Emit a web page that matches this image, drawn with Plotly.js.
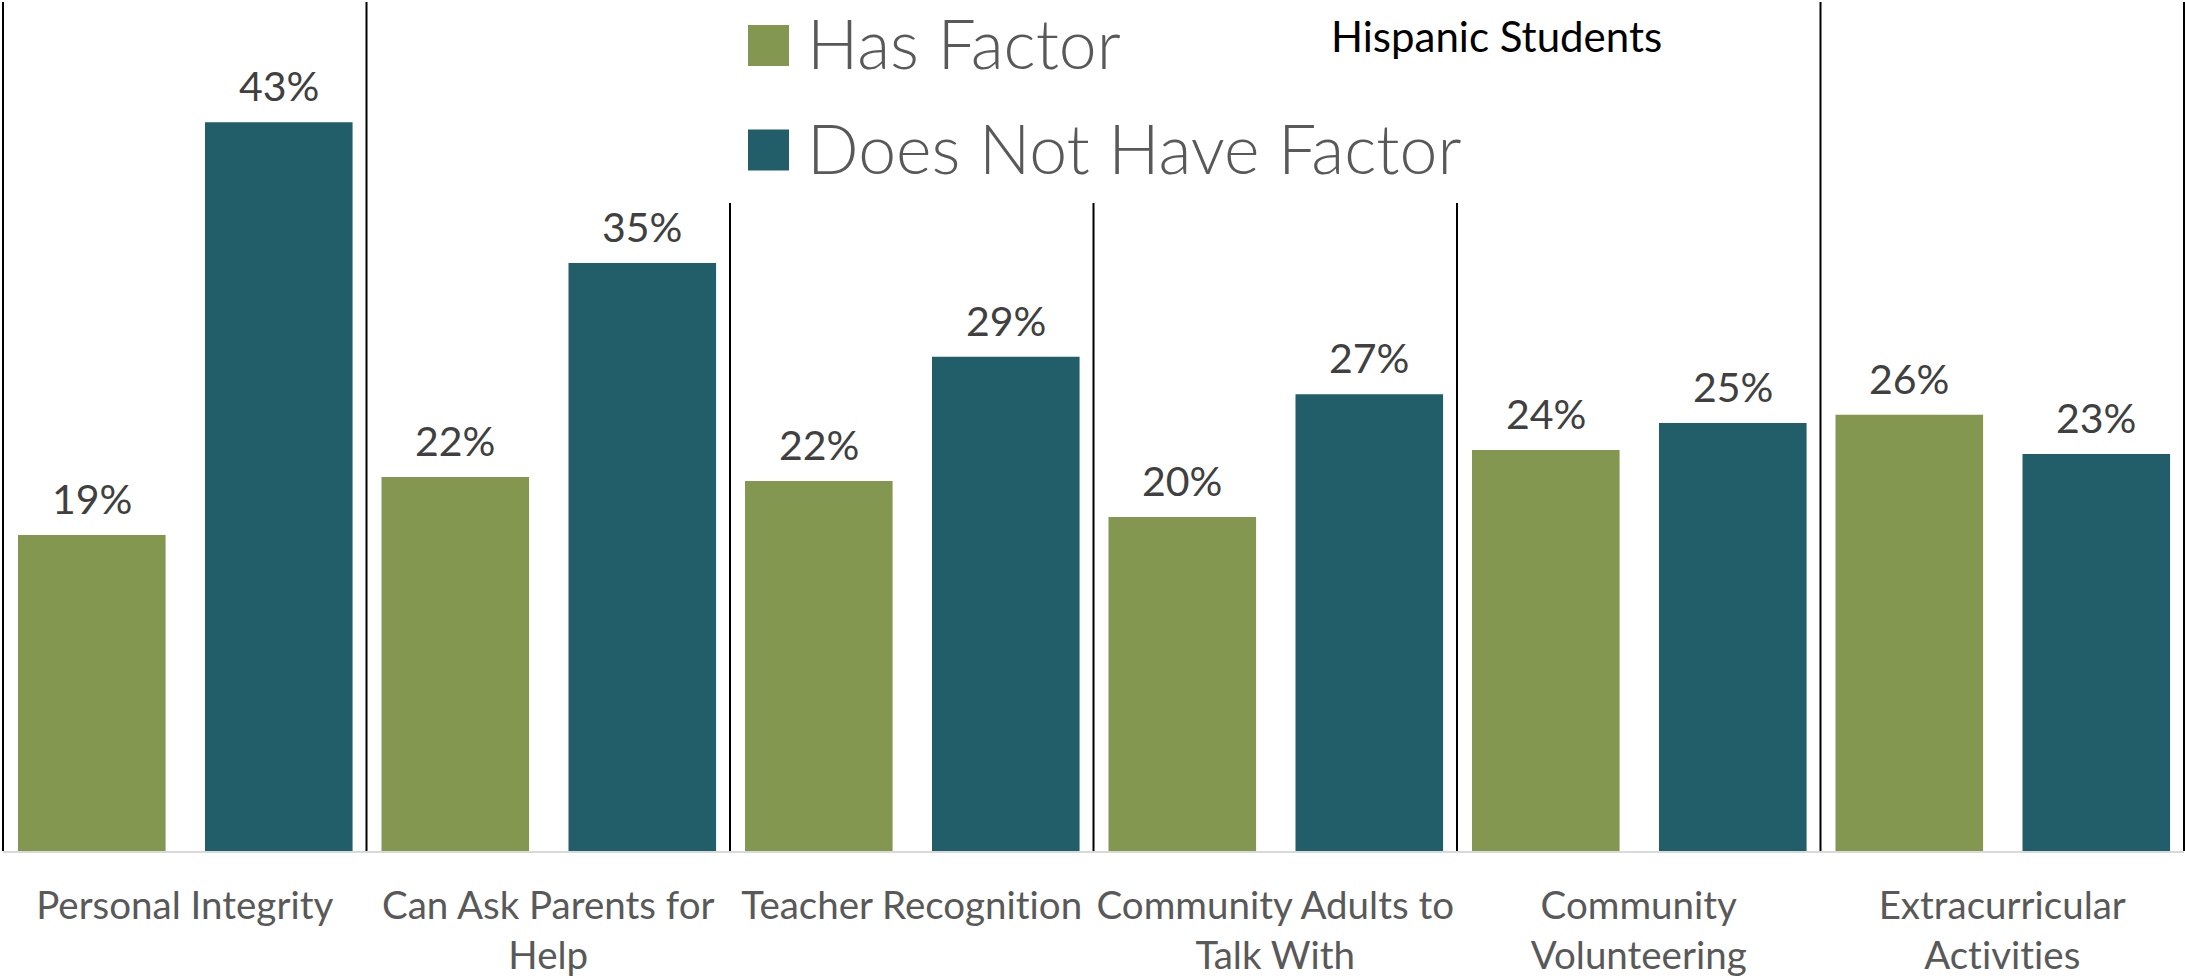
<!DOCTYPE html>
<html>
<head>
<meta charset="utf-8">
<script src="https://cdn.plot.ly/plotly-3.0.1.min.js"></script>
<style>
  html, body { margin: 0; padding: 0; background: #ffffff; }
  #chart { width: 2185px; height: 980px; }
  #chart text { font-variant-ligatures: none !important; font-feature-settings: "liga" 0, "clig" 0 !important; }
</style>
</head>
<body>
<div id="chart"></div>
<script>
// ---- Data ----
const categories = ['Personal Integrity', 'Can Ask Parents for Help', 'Teacher Recognition',
                    'Community Adults to Talk With', 'Community Volunteering', 'Extracurricular Activities'];
const tickLabels = ['Personal Integrity', 'Can Ask Parents for<br>Help', 'Teacher Recognition',
                    'Community Adults to<br>Talk With', 'Community<br>Volunteering', 'Extracurricular<br>Activities'];
const hasFactor = [18.65, 22.07, 21.84, 19.71, 23.67, 25.74];
const doesNotHaveFactor = [43.0, 34.70, 29.16, 26.96, 25.25, 23.43];
const seriesNames = ['Has Factor', 'Does Not Have Factor'];
const chartTitle = 'Hispanic Students';

// ---- Style / layout ----
const W = 2185, H = 980;
const M = {l: 3, r: 1, t: 2, b: 129};
const plotW = W - M.l - M.r, plotH = H - M.t - M.b;
const colors = ['#849751', '#225D6A'];
const barWidth = 0.406;
const offsets = [-0.4587, 0.0557];
const yMax = 50.1;
const FONT = 'Lato, "Open Sans", sans-serif';

const px2x = px => (px - M.l) / plotW;
const py2y = py => (H - M.b - py) / plotH;

const series = [hasFactor, doesNotHaveFactor];
const idx = categories.map((c, i) => i);

const traces = series.map((vals, s) => ({
  type: 'bar',
  x: idx,
  y: vals,
  name: seriesNames[s],
  width: barWidth,
  offset: offsets[s],
  marker: {color: colors[s], line: {width: 0}},
  hoverinfo: 'y',
  showlegend: false
}));

const annotations = [];
series.forEach((vals, s) => {
  vals.forEach((v, i) => {
    annotations.push({
      x: i + offsets[s] + barWidth / 2, y: v, xref: 'x', yref: 'y',
      text: Math.round(v) + '%', showarrow: false,
      xanchor: 'center', yanchor: 'bottom', yshift: 10,
      font: {family: FONT, size: 41, color: '#404040'}
    });
  });
});

// custom legend
const legendRows = [45.5, 150];
const shapes = [];
seriesNames.forEach((n, s) => {
  const cy = legendRows[s];
  shapes.push({type: 'rect', xref: 'paper', yref: 'paper',
    x0: px2x(748), x1: px2x(789), y0: py2y(cy - 20.5), y1: py2y(cy + 20.5),
    fillcolor: colors[s], line: {width: 0}, layer: 'above'});
  annotations.push({xref: 'paper', yref: 'paper', x: px2x(805), y: py2y(cy - 3),
    xanchor: 'left', yanchor: 'middle', showarrow: false, text: n,
    font: {family: FONT, size: 68, color: '#595959', weight: 300}});
});

annotations.push({xref: 'paper', yref: 'paper', x: px2x(1329), y: py2y(36),
  xanchor: 'left', yanchor: 'middle', showarrow: false, text: chartTitle,
  font: {family: FONT, size: 42, color: '#000000'}});

// separator lines at category boundaries
for (let i = 0; i <= categories.length; i++) {
  const partial = (i >= 2 && i <= 4);
  shapes.push({type: 'line', xref: 'paper', yref: 'paper',
    x0: i / categories.length, x1: i / categories.length,
    y0: 0, y1: partial ? py2y(203) : 1,
    line: {color: '#000000', width: 2}, layer: 'above'});
}

const layout = {
  width: W, height: H,
  margin: M,
  paper_bgcolor: '#ffffff', plot_bgcolor: '#ffffff',
  barmode: 'overlay',
  showlegend: false,
  xaxis: {
    type: 'linear', range: [-0.5, categories.length - 0.5],
    tickvals: idx, ticktext: tickLabels,
    showgrid: false, zeroline: false, showline: true,
    linecolor: '#d9d9d9', linewidth: 2, ticks: '',
    tickfont: {family: FONT, size: 38.5, color: '#595959'},
    ticklabelstandoff: 20, fixedrange: true
  },
  yaxis: {
    range: [0, yMax], showgrid: false, zeroline: false, showline: false,
    showticklabels: false, ticks: '', fixedrange: true
  },
  shapes: shapes,
  annotations: annotations
};

Plotly.newPlot('chart', traces, layout, {displayModeBar: false, staticPlot: true});
</script>
</body>
</html>
